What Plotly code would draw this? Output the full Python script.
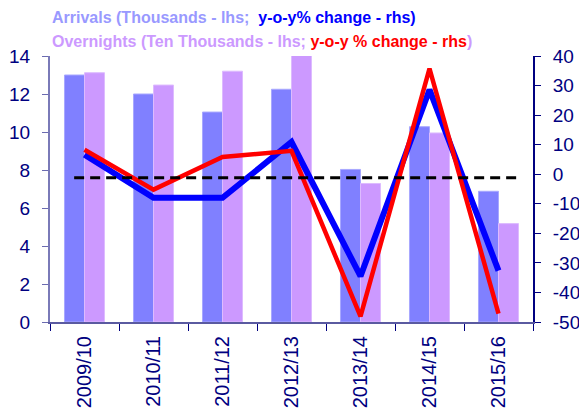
import plotly.graph_objects as go

categories = ["2009/10", "2010/11", "2011/12", "2012/13", "2013/14", "2014/15", "2015/16"]
arrivals = [13.0, 12.0, 11.05, 12.25, 8.03, 10.28, 6.88]          # thousands, lhs
overnights = [13.12, 12.47, 13.2, 14.1, 7.29, 9.95, 5.18]         # ten thousands, lhs
arrivals_yoy = [6.6, -8.0, -8.0, 10.9, -34.5, 28.6, -32.6]        # %, rhs
overnights_yoy = [8.3, -5.2, 5.8, 7.9, -48.1, 35.7, -47.2]        # %, rhs
reference_level = -1.2
left_ticks = list(range(0, 15, 2))
right_ticks = list(range(-50, 41, 10))
right_labels = [str(v) for v in right_ticks]

NAVY = "#000080"
FONT = "Liberation Sans, Arial, sans-serif"

fig = go.Figure()
fig.add_trace(go.Bar(x=categories, y=arrivals, marker=dict(color="#8080FF", line=dict(color="#A8A8FF", width=1)),
                     yaxis="y", name="Arrivals"))
fig.add_trace(go.Bar(x=categories, y=overnights, marker=dict(color="#CC99FF", line=dict(color="#DDBBFF", width=1)),
                     yaxis="y", name="Overnights"))
fig.add_trace(go.Scatter(x=categories, y=arrivals_yoy, mode="lines", yaxis="y2",
                         line=dict(color="#0000FF", width=6), name="Arrivals y-o-y"))
fig.add_trace(go.Scatter(x=categories, y=overnights_yoy, mode="lines", yaxis="y2",
                         line=dict(color="#FF0000", width=4.5), name="Overnights y-o-y"))

fig.add_shape(type="line", xref="x", yref="y2", x0=-0.15, x1=6.33, y0=reference_level, y1=reference_level,
              line=dict(color="black", width=3, dash="10px,6px"))

tickfont = dict(family=FONT, size=19, color=NAVY)
fig.update_layout(
    width=579, height=414,
    margin=dict(l=50, r=46, t=56, b=92),
    paper_bgcolor="white", plot_bgcolor="white",
    showlegend=False,
    barmode="group", bargap=0.42, bargroupgap=0,
    font=dict(family=FONT, color=NAVY),
    xaxis=dict(type="category", categoryorder="array", categoryarray=categories, automargin=False,
               range=[-0.5, 6.5], tickson="boundaries", ticks="outside", ticklen=7, tickcolor=NAVY,
               showline=True, linecolor="#5A5AA0", linewidth=2, showgrid=False,
               tickangle=-90, tickfont=dict(family=FONT, size=20, color=NAVY), ticklabelstandoff=4),
    xaxis2=dict(type="linear", overlaying="x", anchor="y", range=[-0.5, 6.5], automargin=False,
                tickvals=[i - 0.5 for i in range(len(categories) + 1)], ticks="inside", ticklen=7,
                tickcolor=NAVY, showticklabels=False, showgrid=False, showline=False, zeroline=False),
    yaxis=dict(range=[0, 14], tickvals=left_ticks, ticks="outside", ticklen=6, tickcolor="#6B6BB0",
               showline=True, linecolor="#7A7AB8", linewidth=2, showgrid=False, zeroline=False,
               tickfont=tickfont, ticklabelstandoff=8, automargin=False),
    yaxis2=dict(range=[-50, 40], tickvals=right_ticks, ticktext=right_labels, overlaying="y", side="right",
                ticks="outside", automargin=False,
                ticklen=6, tickcolor=NAVY, showline=True, linecolor=NAVY, linewidth=2, showgrid=False,
                zeroline=False, tickfont=tickfont, ticklabelstandoff=8),
    yaxis3=dict(range=[0, 14], tickvals=left_ticks, overlaying="y", side="left", ticks="inside", ticklen=6,
                automargin=False,
                tickcolor="#6B6BB0", showticklabels=False, showgrid=False, showline=False, zeroline=False),
    yaxis4=dict(range=[-50, 40], tickvals=right_ticks, overlaying="y", side="right", ticks="inside", ticklen=6,
                automargin=False,
                tickcolor=NAVY, showticklabels=False, showgrid=False, showline=False, zeroline=False),
)

line1 = ("<b><span style='color:#9999FF'>Arrivals (Thousands - lhs;&nbsp;&nbsp;</span>"
         "<span style='color:#0000FF'>y-o-y% change - rhs)</span></b>")
line2 = ("<b><span style='color:#CC99FF'>Overnights (Ten Thousands - lhs; </span>"
         "<span style='color:#FF0000'>y-o-y % change - rhs</span>"
         "<span style='color:#CC99FF'>)</span></b>")
fig.add_annotation(text=line1, xref="paper", yref="paper", x=0.0, y=1.143, xanchor="left", yanchor="middle",
                   showarrow=False, font=dict(family=FONT, size=16))
fig.add_annotation(text=line2, xref="paper", yref="paper", x=0.0, y=1.056, xanchor="left", yanchor="middle",
                   showarrow=False, font=dict(family=FONT, size=16))

fig.write_html("out.html", config={"displayModeBar": False},
               post_script="document.body.style.margin='0';document.body.style.overflow='hidden';")
